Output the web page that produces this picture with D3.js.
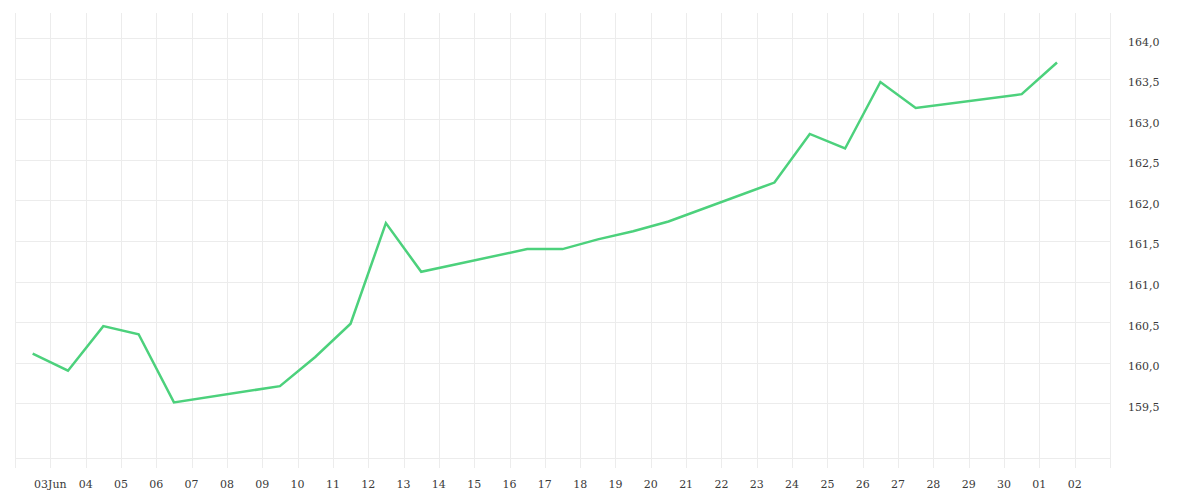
<!DOCTYPE html>
<html>
<head>
<meta charset="utf-8">
<script src="https://cdn.jsdelivr.net/npm/d3@7"></script>
<style>
  html, body { margin: 0; padding: 0; background: #ffffff; }
  svg { display: block; }
  text { font-family: "DejaVu Serif", serif; font-size: 11px; fill: #3a3a3a; }
</style>
</head>
<body>
<svg id="chart" width="1200" height="500"></svg>
<script>
// ---- data ----
const dates = [
  "2024-06-02T12:00", "2024-06-03T12:00", "2024-06-04T12:00", "2024-06-05T12:00", "2024-06-06T12:00",
  "2024-06-09T12:00", "2024-06-10T12:00", "2024-06-11T12:00", "2024-06-12T12:00", "2024-06-13T12:00",
  "2024-06-16T12:00", "2024-06-17T12:00", "2024-06-18T12:00", "2024-06-19T12:00", "2024-06-20T12:00",
  "2024-06-23T12:00", "2024-06-24T12:00", "2024-06-25T12:00", "2024-06-26T12:00", "2024-06-27T12:00",
  "2024-06-30T12:00", "2024-07-01T12:00"
];
const values = [
  160.11, 159.90, 160.45, 160.35, 159.51,
  159.71, 160.07, 160.48, 161.72, 161.12,
  161.40, 161.40, 161.52, 161.62, 161.74,
  162.22, 162.82, 162.64, 163.46, 163.14,
  163.31, 163.70
];
const xDomain = ["2024-06-02T00:00", "2024-07-03T00:00"];
const yDomain = [158.824, 164.311];
const yTicks = [159.5, 160.0, 160.5, 161.0, 161.5, 162.0, 162.5, 163.0, 163.5, 164.0];

// ---- setup ----
const parse = d3.utcParse("%Y-%m-%dT%H:%M");
const data = dates.map((d, i) => ({ date: parse(d), value: values[i] }));

const plotLeft = 15, plotRight = 1110, plotTop = 13, plotBottom = 458;
const svg = d3.select("#chart");

const x = d3.scaleUtc().domain(xDomain.map(parse)).range([plotLeft, plotRight]);
const y = d3.scaleLinear().domain(yDomain).range([plotBottom, plotTop]);

const gridColor = "#ececec";
const locale = d3.formatLocale({ decimal: ",", thousands: ".", grouping: [3], currency: ["", ""] });
const yFmt = locale.format(".1f");

// vertical grid lines (day ticks), extending below the plot as tick marks
const dayTicks = d3.utcDay.range(x.domain()[0], d3.utcDay.offset(x.domain()[1], 1));
svg.append("g").selectAll("line").data(dayTicks).join("line")
  .attr("x1", d => Math.round(x(d)) + 0.5).attr("x2", d => Math.round(x(d)) + 0.5)
  .attr("y1", plotTop).attr("y2", plotBottom + 10)
  .attr("stroke", gridColor).attr("stroke-width", 1);

// horizontal grid lines
svg.append("g").selectAll("line").data(yTicks).join("line")
  .attr("x1", plotLeft).attr("x2", plotRight)
  .attr("y1", d => Math.round(y(d)) + 0.5).attr("y2", d => Math.round(y(d)) + 0.5)
  .attr("stroke", gridColor).attr("stroke-width", 1);

// bottom baseline
svg.append("line")
  .attr("x1", plotLeft).attr("x2", plotRight)
  .attr("y1", plotBottom + 0.5).attr("y2", plotBottom + 0.5)
  .attr("stroke", gridColor).attr("stroke-width", 1);

// x labels
const labelTicks = dayTicks.slice(1, -1);
const dayFmt = d3.utcFormat("%d");
const firstFmt = d3.utcFormat("%d%b");
svg.append("g").selectAll("text").data(labelTicks).join("text")
  .attr("x", d => x(d))
  .attr("y", 487.5)
  .attr("text-anchor", "middle")
  .text((d, i) => i === 0 ? firstFmt(d) : dayFmt(d));

// y labels (right side)
svg.append("g").selectAll("text").data(yTicks).join("text")
  .attr("x", 1128)
  .attr("y", d => y(d) + 7.5)
  .attr("text-anchor", "start")
  .text(d => yFmt(d));

// line
const line = d3.line().x(d => x(d.date)).y(d => y(d.value));
svg.append("path")
  .datum(data)
  .attr("d", line)
  .attr("fill", "none")
  .attr("stroke", "#4cd17c")
  .attr("stroke-width", 2.5)
  .attr("stroke-linejoin", "miter");
</script>
</body>
</html>
